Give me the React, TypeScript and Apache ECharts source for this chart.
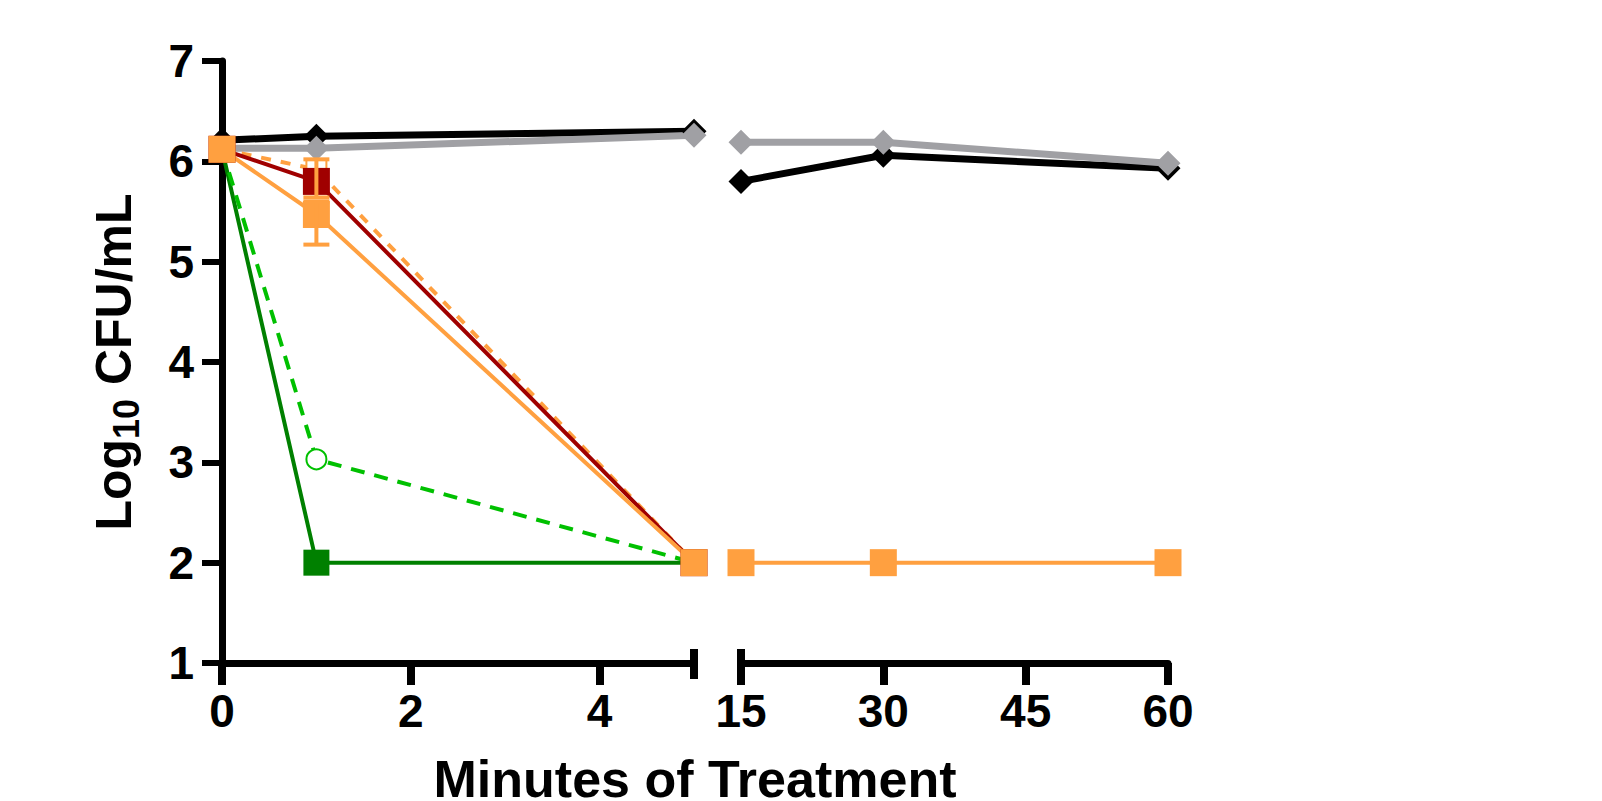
import React, { useEffect, useRef } from "react";
import * as echarts from "echarts";

// ---- data ----
const xEarly = [0, 1, 5];
const xLate = [15, 30, 60];
const xEarlyTicks = [0, 2, 4];
const xLateTicks = [15, 30, 45, 60];
const yTicks = [1, 2, 3, 4, 5, 6, 7];

const blackEarly = [6.21, 6.25, 6.3];
const blackLate = [5.8, 6.06, 5.93];
const grayEarly = [6.13, 6.13, 6.26];
const grayLate = [6.19, 6.19, 5.98];
const darkRedEarly = [6.12, 5.8, 2.0];
const orangeDashEarly = [6.12, 5.92, 2.0];
const orangeEarly = [6.12, 5.47, 2.0];
const orangeLate = [2.0, 2.0, 2.0];
const darkGreenEarly = [6.12, 2.0, 2.0];
const lightGreenEarly = [6.12, 3.03, 2.0];
// error bars at 1 minute: [x, low, high]
const orangeErr = [[1, 5.17, 5.6]];
const orangeDashErr = [[1, 5.64, 6.02]];

const FONT = 'Arial, "Liberation Sans", sans-serif';
const C_BLACK = "#000000";
const C_GRAY = "#a0a0a4";
const C_RED = "#a00000";
const C_ORANGE = "#ffa040";
const C_DGREEN = "#008000";
const C_LGREEN = "#00c000";

const pair = (xs: number[], ys: number[]) => xs.map((x, i) => [x, ys[i]]);

function errSeries(data: number[][], color: string) {
  return {
    type: "custom",
    xAxisIndex: 0,
    yAxisIndex: 0,
    z: 10,
    data,
    encode: { x: 0, y: [1, 2] },
    renderItem: (_params: any, api: any) => {
      const x = api.value(0);
      const lo = api.coord([x, api.value(1)]);
      const hi = api.coord([x, api.value(2)]);
      const hw = 13;
      const st = { stroke: color, lineWidth: 4 };
      return {
        type: "group",
        children: [
          { type: "line", shape: { x1: lo[0], y1: lo[1], x2: hi[0], y2: hi[1] }, style: st },
          { type: "line", shape: { x1: lo[0] - hw, y1: lo[1], x2: lo[0] + hw, y2: lo[1] }, style: st },
          { type: "line", shape: { x1: hi[0] - hw, y1: hi[1], x2: hi[0] + hw, y2: hi[1] }, style: st },
        ],
      };
    },
  };
}

function lineSeries(
  data: number[][],
  color: string,
  grid: number,
  opts: { width: number; symbol: string; size: number; dashed?: number[]; border?: number }
) {
  return {
    type: "line",
    xAxisIndex: grid,
    yAxisIndex: grid,
    data,
    symbol: opts.symbol,
    symbolSize: opts.size,
    showAllSymbol: true,
    lineStyle: { color, width: opts.width, type: opts.dashed ? opts.dashed : "solid" },
    itemStyle: { color, borderColor: color, borderWidth: opts.border ?? 0 },
    emphasis: { disabled: true },
  };
}

const axisLabelStyle = {
  color: "#000",
  fontSize: 46,
  fontWeight: "bold" as const,
  fontFamily: FONT,
};

export default function App() {
  const ref = useRef<HTMLDivElement>(null);
  useEffect(() => {
    if (!ref.current) return;
    const chart = echarts.init(ref.current, undefined, { renderer: "svg" });
    const axisLine = { show: true, lineStyle: { color: "#000", width: 7 } };
    const option: any = {
      animation: false,
      backgroundColor: "#fff",
      grid: [
        { left: 222, top: 61, width: 472, height: 602 },
        { left: 741, top: 61, width: 427, height: 602 },
      ],
      xAxis: [
        {
          type: "value",
          gridIndex: 0,
          min: 0,
          max: 5,
          axisLine,
          axisTick: { show: true, length: 22, lineStyle: { color: "#000", width: 8 }, customValues: xEarlyTicks },
          axisLabel: { ...axisLabelStyle, margin: 25, customValues: xEarlyTicks },
          splitLine: { show: false },
        },
        {
          type: "value",
          gridIndex: 1,
          min: 15,
          max: 60,
          interval: 15,
          axisLine,
          axisTick: { show: true, length: 22, lineStyle: { color: "#000", width: 8 }, customValues: xLateTicks },
          axisLabel: { ...axisLabelStyle, margin: 25, customValues: xLateTicks },
          splitLine: { show: false },
        },
      ],
      yAxis: [
        {
          type: "value",
          gridIndex: 0,
          min: 1,
          max: 7,
          interval: 1,
          axisLine,
          axisTick: { show: true, length: 20, lineStyle: { color: "#000", width: 6 }, customValues: yTicks },
          axisLabel: { ...axisLabelStyle, margin: 28, customValues: yTicks },
          splitLine: { show: false },
          name: "Log{sub|10} CFU/mL",
          nameLocation: "middle",
          nameRotate: 90,
          nameGap: 78,
          nameTextStyle: {
            color: "#000",
            fontSize: 50,
            fontWeight: "bold",
            fontFamily: FONT,
            rich: {
              sub: { fontSize: 36, fontWeight: "bold", fontFamily: FONT, color: "#000", padding: [24, 0, 0, 0] },
            },
          },
        },
        {
          type: "value",
          gridIndex: 1,
          min: 1,
          max: 7,
          interval: 1,
          show: false,
        },
      ],
      series: [
        lineSeries(pair(xEarly, blackEarly), C_BLACK, 0, { width: 7, symbol: "diamond", size: 25 }),
        lineSeries(pair(xLate, blackLate), C_BLACK, 1, { width: 7, symbol: "diamond", size: 25 }),
        lineSeries(pair(xEarly, grayEarly), C_GRAY, 0, { width: 7, symbol: "diamond", size: 25 }),
        lineSeries(pair(xLate, grayLate), C_GRAY, 1, { width: 7, symbol: "diamond", size: 25 }),
        lineSeries(pair(xEarly, darkGreenEarly), C_DGREEN, 0, { width: 4, symbol: "rect", size: 26 }),
        lineSeries(pair(xEarly, lightGreenEarly), C_LGREEN, 0, { width: 4, symbol: "emptyCircle", size: 20, dashed: [14, 10], border: 3 }),
        lineSeries(pair(xEarly, orangeDashEarly), C_ORANGE, 0, { width: 4, symbol: "emptyRect", size: 20, dashed: [10, 10], border: 3 }),
        lineSeries(pair(xEarly, darkRedEarly), C_RED, 0, { width: 4, symbol: "rect", size: 27 }),
        lineSeries(pair(xEarly, orangeEarly), C_ORANGE, 0, { width: 4, symbol: "rect", size: 27 }),
        lineSeries(pair(xLate, orangeLate), C_ORANGE, 1, { width: 4, symbol: "rect", size: 27 }),
        errSeries(orangeDashErr, C_ORANGE),
        errSeries(orangeErr, C_ORANGE),
      ],
    };
    chart.setOption(option);

    // axis break end caps, placed through the axes' own scales
    const startA = chart.convertToPixel({ gridIndex: 0 }, [0, 1]) as number[];
    const endA = chart.convertToPixel({ gridIndex: 0 }, [5, 1]) as number[];
    const startB = chart.convertToPixel({ gridIndex: 1 }, [15, 1]) as number[];
    const endB = chart.convertToPixel({ gridIndex: 1 }, [60, 1]) as number[];
    const capStyle = { stroke: "#000", lineWidth: 8 };
    chart.setOption({
      graphic: [
        {
          id: "xtitle",
          type: "text",
          x: (startA[0] + endB[0]) / 2,
          y: 779,
          style: {
            text: "Minutes of Treatment",
            fill: "#000",
            fontSize: 52,
            fontWeight: "bold",
            fontFamily: FONT,
            textAlign: "center",
            textVerticalAlign: "middle",
          },
        },
        {
          id: "capA",
          type: "line",
          shape: { x1: endA[0], y1: endA[1] - 14, x2: endA[0], y2: endA[1] + 16 },
          style: capStyle,
        },
        {
          id: "capB",
          type: "line",
          shape: { x1: startB[0], y1: startB[1] - 14, x2: startB[0], y2: startB[1] + 16 },
          style: capStyle,
        },
      ],
    });
    return () => chart.dispose();
  }, []);
  return (
    <div
      ref={ref}
      style={{ position: "fixed", left: 0, top: 0, width: 1602, height: 801, background: "#fff" }}
    />
  );
}
